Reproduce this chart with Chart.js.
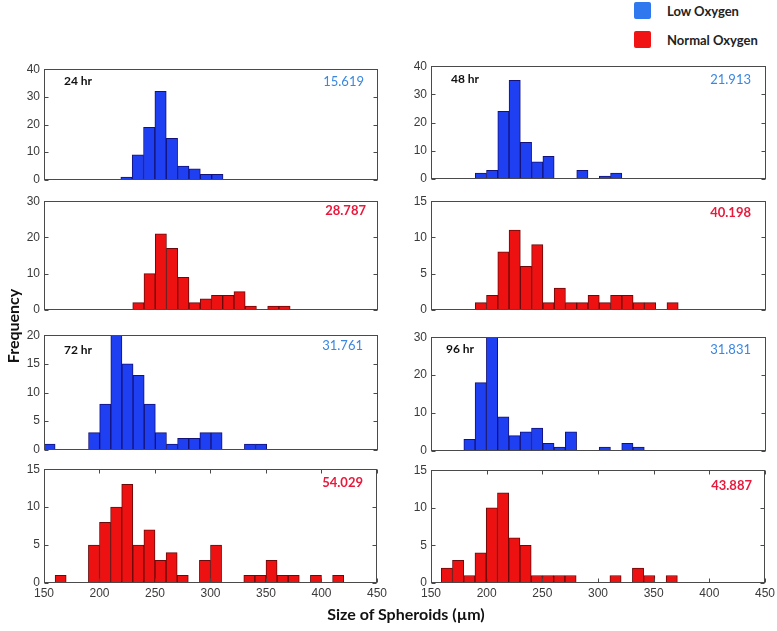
<!DOCTYPE html>
<html><head><meta charset="utf-8">
<script src="https://cdn.jsdelivr.net/npm/chart.js@4/dist/chart.umd.min.js"></script>
<style>
body{margin:0;background:#fff;}
#root{position:relative;width:777px;height:631px;overflow:hidden;background:#fff;font-family:Lato,"Open Sans",sans-serif;}
canvas{position:absolute;}
.t{position:absolute;white-space:nowrap;line-height:16px;height:16px;}
.hr{font-weight:bold;font-size:12px;color:#111;}
.val{font-size:13px;text-align:right;}
.blue{color:#3a87e0;}
.red{color:#e8193c;font-weight:bold;}
.leg{font-weight:bold;font-size:13px;color:#222;}
.sw{position:absolute;width:17px;height:17px;border-radius:2px;}
</style></head><body>
<div id="root"></div>
<script>
// ---- data ----
const xTickLabels = [150, 200, 250, 300, 350, 400, 450];

// 24 hr, low oxygen
const bins24Low   = [224.1, 234.3, 244.5, 254.7, 264.9, 275.1, 285.3, 295.5, 305.7];
const counts24Low = [1, 9, 19, 32, 15, 5, 4, 2, 2];
// 48 hr, low oxygen
const bins48Low   = [194.65, 204.75, 214.85, 224.95, 235.05, 245.15, 255.25, 265.35, 275.45, 285.55, 295.65, 305.75, 315.85];
const counts48Low = [2, 3, 24, 35, 13, 6, 8, 0, 0, 3, 0, 1, 2];
// 24 hr, normal oxygen
const bins24Norm   = [234.75, 244.85, 254.95, 265.05, 275.15, 285.25, 295.35, 305.45, 315.55, 325.65, 335.75, 345.85, 355.95, 366.05];
const counts24Norm = [2, 10, 21, 17, 9, 2, 3, 4, 4, 5, 1, 0, 1, 1];
// 48 hr, normal oxygen
const bins48Norm   = [194.65, 204.75, 214.85, 224.95, 235.05, 245.15, 255.25, 265.35, 275.45, 285.55, 295.65, 305.75, 315.85, 325.95, 336.05, 346.15, 356.25, 366.35];
const counts48Norm = [1, 2, 8, 11, 6, 9, 1, 3, 1, 1, 2, 1, 2, 2, 1, 1, 0, 1];
// 72 hr, low oxygen
const bins72Low   = [155, 165, 175, 185, 195, 205, 215, 225, 235, 245, 255, 265, 275, 285, 295, 305, 315, 325, 335, 345];
const counts72Low = [1, 0, 0, 0, 3, 8, 20, 15, 13, 8, 3, 1, 2, 2, 3, 3, 0, 0, 1, 1];
// 96 hr, low oxygen
const bins96Low   = [184.45, 194.55, 204.65, 214.75, 224.85, 234.95, 245.05, 255.15, 265.25, 275.35, 285.45, 295.55, 305.65, 315.75, 325.85, 335.95];
const counts96Low = [3, 18, 30, 9, 4, 5, 6, 2, 1, 5, 0, 0, 1, 0, 2, 1];
// 72 hr, normal oxygen
const bins72Norm   = [165, 175, 185, 195, 205, 215, 225, 235, 245, 255, 265, 275, 285, 295, 305, 315, 325, 335, 345, 355, 365, 375, 385, 395, 405, 415];
const counts72Norm = [1, 0, 0, 5, 8, 10, 13, 5, 7, 3, 4, 1, 0, 3, 5, 0, 0, 1, 1, 3, 1, 1, 0, 1, 0, 1];
// 96 hr, normal oxygen
const bins96Norm   = [164.25, 174.35, 184.45, 194.55, 204.65, 214.75, 224.85, 234.95, 245.05, 255.15, 265.25, 275.35, 285.45, 295.55, 305.65, 315.75, 325.85, 335.95, 346.05, 356.15, 366.25];
const counts96Norm = [2, 3, 1, 4, 10, 12, 6, 5, 1, 1, 1, 1, 0, 0, 0, 1, 0, 2, 1, 0, 1];

const timeLabels  = ['24 hr', '48 hr', '72 hr', '96 hr'];
const spreadLow   = ['15.619', '21.913', '31.761', '31.831'];
const spreadNorm  = ['28.787', '40.198', '54.029', '43.887'];
const legendLabels = ['Low Oxygen', 'Normal Oxygen'];
const xAxisTitle = 'Size of Spheroids (µm)';
const yAxisTitle = 'Frequency';

// ---- styling / layout ----
const BLUE = {fill: '#1f3ff2', edge: '#12127a'};
const RED  = {fill: '#ee1111', edge: '#6a0a0a'};
const tickFont = {family: '"Liberation Sans Narrow", "Liberation Sans", Arial, sans-serif', size: 12};
const tickColor = '#3a3a3a';

const panels = [
  {bins: bins24Low,  counts: counts24Low,  c: BLUE, ymax: 40, step: 10, l: 44,  r: 378, t: 68,  b: 181, bottom: false},
  {bins: bins48Low,  counts: counts48Low,  c: BLUE, ymax: 40, step: 10, l: 431, r: 766, t: 65,  b: 180, bottom: false},
  {bins: bins24Norm, counts: counts24Norm, c: RED,  ymax: 30, step: 10, l: 44,  r: 378, t: 200, b: 311, bottom: false},
  {bins: bins48Norm, counts: counts48Norm, c: RED,  ymax: 15, step: 5,  l: 431, r: 766, t: 200, b: 311, bottom: false},
  {bins: bins72Low,  counts: counts72Low,  c: BLUE, ymax: 20, step: 5,  l: 44,  r: 378, t: 334, b: 451, bottom: false},
  {bins: bins96Low,  counts: counts96Low,  c: BLUE, ymax: 30, step: 10, l: 431, r: 766, t: 336, b: 452, bottom: false},
  {bins: bins72Norm, counts: counts72Norm, c: RED,  ymax: 15, step: 5,  l: 44,  r: 378, t: 468, b: 583, bottom: true},
  {bins: bins96Norm, counts: counts96Norm, c: RED,  ymax: 15, step: 5,  l: 431, r: 766, t: 469, b: 583, bottom: true},
];

const framePlugin = {
  id: 'frame',
  afterDatasetsDraw(chart, args, opts) {
    const {ctx, chartArea: a, scales} = chart;
    ctx.save();
    ctx.strokeStyle = '#4a4a4a';
    ctx.lineWidth = 1;
    const L = Math.round(a.left) + 0.5, R = Math.round(a.right) - 0.5;
    const T = Math.round(a.top) + 0.5, B = Math.round(a.bottom) - 0.5;
    ctx.strokeRect(L, T, R - L, B - T);
    ctx.beginPath();
    const y = scales.y;
    y.ticks.forEach(tk => {
      const py = Math.round(y.getPixelForValue(tk.value)) + 0.5;
      ctx.moveTo(L, py); ctx.lineTo(L + 4, py);
      ctx.moveTo(R, py); ctx.lineTo(R - 4, py);
    });
    if (opts.xTicks) {
      const x = scales.x;
      x.ticks.forEach(tk => {
        const px = Math.round(x.getPixelForValue(tk.value)) + 0.5;
        ctx.moveTo(px, T); ctx.lineTo(px, T + 4);
        ctx.moveTo(px, B); ctx.lineTo(px, B - 4);
      });
    }
    ctx.stroke();
    ctx.restore();
  }
};

const root = document.getElementById('root');
const YW = 40, PR = 12, PT = 10;

panels.forEach(p => {
  const cv = document.createElement('canvas');
  const w = p.r - p.l + YW + PR;
  const pb = p.bottom ? 2 : 10;
  const xh = p.bottom ? 20 : 0;
  const h = p.b - p.t + PT + pb + xh;
  cv.width = w; cv.height = h;
  cv.style.left = (p.l - YW) + 'px';
  cv.style.top = (p.t - PT) + 'px';
  cv.style.width = w + 'px'; cv.style.height = h + 'px';
  root.appendChild(cv);
  const pts = [];
  p.bins.forEach((x, i) => { if (p.counts[i] > 0) pts.push({x: x, y: p.counts[i]}); });
  new Chart(cv, {
    type: 'bar',
    data: {datasets: [{
      data: pts,
      backgroundColor: p.c.fill,
      borderColor: p.c.edge,
      borderWidth: 1,
      barPercentage: 1,
      categoryPercentage: 1
    }]},
    options: {
      responsive: false, animation: false, devicePixelRatio: 1,
      layout: {padding: {left: 0, right: PR, top: PT, bottom: pb}},
      plugins: {legend: {display: false}, tooltip: {enabled: false}, frame: {xTicks: p.bottom}},
      scales: {
        x: {
          type: 'linear', min: 150, max: 450, offset: false, display: p.bottom,
          grid: {display: false, drawTicks: false, offset: false}, border: {display: false},
          afterBuildTicks: s => { s.ticks = xTickLabels.map(v => ({value: v})); },
          ticks: {font: tickFont, color: tickColor, padding: 3, maxRotation: 0, autoSkip: false},
          afterFit: s => { s.height = xh; }
        },
        y: {
          min: 0, max: p.ymax,
          grid: {display: false, drawTicks: false}, border: {display: false},
          ticks: {stepSize: p.step, font: tickFont, color: tickColor, padding: 4},
          afterFit: s => { s.width = YW; }
        }
      }
    },
    plugins: [framePlugin]
  });
});

function addText(txt, cls, style) {
  const d = document.createElement('div');
  d.className = 't ' + cls;
  d.textContent = txt;
  Object.assign(d.style, style);
  root.appendChild(d);
  return d;
}
// time labels
addText(timeLabels[0], 'hr', {left: '64px', top: '73px'});
addText(timeLabels[1], 'hr', {left: '451px', top: '71px'});
addText(timeLabels[2], 'hr', {left: '64px', top: '342px'});
addText(timeLabels[3], 'hr', {left: '446px', top: '341px'});
// spread values (right aligned)
addText(spreadLow[0],  'val blue', {right: (777 - 364) + 'px', top: '73px'});
addText(spreadLow[1],  'val blue', {right: (777 - 751) + 'px', top: '71px'});
addText(spreadNorm[0], 'val red',  {right: (777 - 366) + 'px', top: '202px'});
addText(spreadNorm[1], 'val red',  {right: (777 - 751) + 'px', top: '204px'});
addText(spreadLow[2],  'val blue', {right: (777 - 363) + 'px', top: '337px'});
addText(spreadLow[3],  'val blue', {right: (777 - 751) + 'px', top: '341px'});
addText(spreadNorm[2], 'val red',  {right: (777 - 363) + 'px', top: '474px'});
addText(spreadNorm[3], 'val red',  {right: (777 - 752) + 'px', top: '477px'});
// legend
const s1 = document.createElement('div'); s1.className = 'sw';
Object.assign(s1.style, {left: '634px', top: '2px', background: '#2f78ee'}); root.appendChild(s1);
const s2 = document.createElement('div'); s2.className = 'sw';
Object.assign(s2.style, {left: '634px', top: '31px', background: '#f01414'}); root.appendChild(s2);
addText(legendLabels[0], 'leg', {left: '667px', top: '3px'});
addText(legendLabels[1], 'leg', {left: '667px', top: '32px'});
// axis titles
const xt = addText(xAxisTitle, '', {left: '0px', width: '812px', textAlign: 'center', top: '605px', fontWeight: 'bold', fontSize: '16px', color: '#111', lineHeight: '18px', height: '18px'});
const yt = addText(yAxisTitle, '', {left: '-37px', width: '100px', textAlign: 'center', top: '317px', fontWeight: 'bold', fontSize: '16px', color: '#111', lineHeight: '18px', height: '18px', transform: 'rotate(-90deg)'});
</script>
</body></html>
